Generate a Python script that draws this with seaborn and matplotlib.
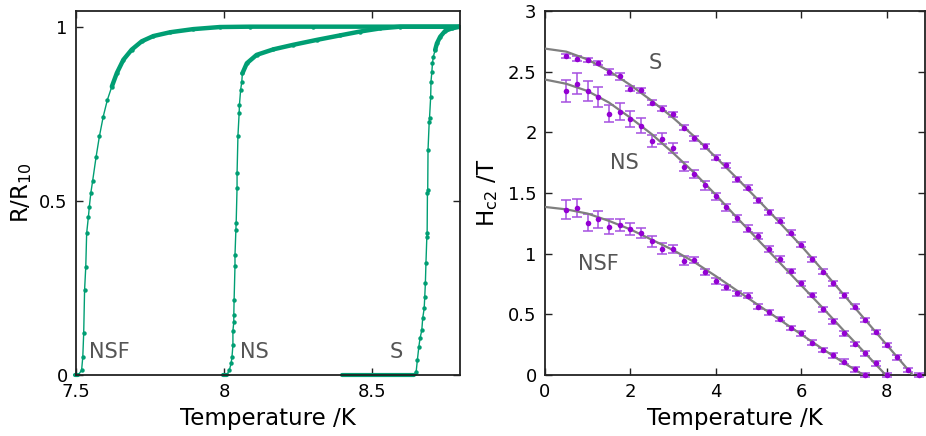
import numpy as np
import pandas as pd
import matplotlib
matplotlib.use("Agg")
import matplotlib.pyplot as plt
import seaborn as sns

# ---------------- data: left panel (R/R10 vs T) ----------------
nsf_T = [7.497, 7.501, 7.505, 7.508, 7.519, 7.523, 7.526, 7.529, 7.533, 7.536, 7.542,
         7.545, 7.550, 7.556, 7.568, 7.579, 7.592, 7.606, 7.621, 7.638, 7.660, 7.688,
         7.722, 7.761, 7.818, 7.896, 7.986, 8.088, 8.30, 8.50, 8.797]
nsf_R = [0.0, 0.0, 0.0, 0.0, 0.014, 0.053, 0.120, 0.244, 0.311, 0.407, 0.455,
         0.483, 0.522, 0.556, 0.627, 0.685, 0.742, 0.790, 0.828, 0.867, 0.905, 0.934,
         0.958, 0.973, 0.984, 0.993, 0.999, 1.0, 1.0, 1.0, 1.0]

ns_T = [7.998, 8.009, 8.018, 8.024, 8.027, 8.030, 8.030, 8.033, 8.033, 8.034, 8.037,
        8.037, 8.040, 8.041, 8.044, 8.044, 8.047, 8.051, 8.052, 8.056, 8.060, 8.062,
        8.077, 8.110, 8.167, 8.234, 8.313, 8.392, 8.459, 8.527, 8.595, 8.797]
ns_R = [0.0, 0.0, 0.014, 0.034, 0.053, 0.086, 0.127, 0.152, 0.172, 0.215, 0.313,
        0.344, 0.416, 0.437, 0.538, 0.579, 0.687, 0.751, 0.775, 0.818, 0.842, 0.866,
        0.895, 0.919, 0.935, 0.948, 0.962, 0.975, 0.986, 0.995, 1.0, 1.0]

s_T = [8.398, 8.45, 8.50, 8.55, 8.60, 8.640, 8.649, 8.653, 8.658, 8.662, 8.668, 8.671,
       8.676, 8.678, 8.680, 8.682, 8.685, 8.686, 8.687, 8.688, 8.689, 8.693, 8.694,
       8.698, 8.699, 8.702, 8.704, 8.707, 8.713, 8.719, 8.730, 8.747, 8.769, 8.797]
s_R = [0.0, 0.0, 0.0, 0.0, 0.0, 0.0, 0.010, 0.043, 0.081, 0.105, 0.129, 0.163,
       0.191, 0.225, 0.263, 0.321, 0.397, 0.407, 0.522, 0.532, 0.646, 0.727, 0.737,
       0.799, 0.842, 0.871, 0.895, 0.914, 0.933, 0.952, 0.971, 0.988, 0.995, 1.0]

left_labels = ["NSF", "NS", "S"]

# ---------------- data: right panel (Hc2 vs T) ----------------
S_T = [0.5, 0.75, 1.0, 1.25, 1.5, 1.75, 2.0, 2.25, 2.5, 2.75, 3.0, 3.25, 3.5, 3.75,
       4.0, 4.25, 4.5, 4.75, 5.0, 5.25, 5.5, 5.75, 6.0, 6.25, 6.5, 6.75, 7.0, 7.25,
       7.5, 7.75, 8.0, 8.25, 8.5, 8.75]
S_H = [2.627, 2.608, 2.594, 2.572, 2.498, 2.462, 2.361, 2.347, 2.243, 2.196, 2.147,
       2.037, 1.952, 1.886, 1.790, 1.727, 1.614, 1.545, 1.441, 1.342, 1.271, 1.172,
       1.073, 0.953, 0.851, 0.755, 0.656, 0.563, 0.453, 0.354, 0.247, 0.145, 0.041, 0.0]
S_err = [0.018, 0.02, 0.015, 0.02, 0.025, 0.027, 0.02, 0.02, 0.02, 0.02, 0.02,
         0.02, 0.02, 0.02, 0.02, 0.02, 0.02, 0.02, 0.02, 0.02, 0.02, 0.02,
         0.02, 0.02, 0.02, 0.02, 0.02, 0.02, 0.02, 0.02, 0.02, 0.02, 0.02, 0.02]

NS_T = [0.5, 0.75, 1.0, 1.25, 1.5, 1.75, 2.0, 2.25, 2.5, 2.75, 3.0, 3.25, 3.5, 3.75,
        4.0, 4.25, 4.5, 4.75, 5.0, 5.25, 5.5, 5.75, 6.0, 6.25, 6.5, 6.75, 7.0, 7.25,
        7.5, 7.75, 8.0]
NS_H = [2.339, 2.402, 2.342, 2.292, 2.155, 2.169, 2.108, 2.056, 1.932, 1.949, 1.872,
        1.718, 1.658, 1.562, 1.474, 1.381, 1.290, 1.205, 1.142, 1.035, 0.953, 0.857,
        0.755, 0.659, 0.541, 0.442, 0.343, 0.255, 0.178, 0.096, 0.0]
NS_err = [0.09, 0.09, 0.08, 0.08, 0.07, 0.07, 0.065, 0.06, 0.05, 0.045, 0.04,
          0.04, 0.035, 0.035, 0.03, 0.03, 0.03, 0.03, 0.025, 0.025, 0.025, 0.02,
          0.02, 0.02, 0.02, 0.02, 0.02, 0.02, 0.02, 0.02, 0.02]

NSF_T = [0.5, 0.75, 1.0, 1.25, 1.5, 1.75, 2.0, 2.25, 2.5, 2.75, 3.0, 3.25, 3.5, 3.75,
         4.0, 4.25, 4.5, 4.75, 5.0, 5.25, 5.5, 5.75, 6.0, 6.25, 6.5, 6.75, 7.0, 7.25, 7.5]
NSF_H = [1.364, 1.375, 1.254, 1.282, 1.222, 1.238, 1.200, 1.169, 1.101, 1.040, 1.040,
         0.942, 0.944, 0.851, 0.777, 0.722, 0.673, 0.653, 0.563, 0.516, 0.461, 0.387,
         0.343, 0.266, 0.206, 0.162, 0.110, 0.047, 0.0]
NSF_err = [0.075, 0.075, 0.07, 0.07, 0.06, 0.05, 0.05, 0.04, 0.045, 0.045, 0.035,
           0.035, 0.025, 0.025, 0.025, 0.02, 0.02, 0.02, 0.02, 0.02, 0.02, 0.02,
           0.02, 0.02, 0.02, 0.02, 0.02, 0.02, 0.02]

# fitted curves
fitS_T = [0, 0.5, 1, 1.5, 2, 2.5, 3, 3.5, 4, 4.5, 5, 5.5, 6, 6.5, 7, 7.5, 8, 8.5, 8.61]
fitS_H = [2.69, 2.665, 2.60, 2.505, 2.39, 2.26, 2.12, 1.965, 1.795, 1.62, 1.44, 1.255,
          1.065, 0.865, 0.66, 0.455, 0.25, 0.045, 0.0]
fitNS_T = [0, 0.5, 1, 1.5, 2, 2.5, 3, 3.5, 4, 4.5, 5, 5.5, 6, 6.5, 7, 7.5, 7.98]
fitNS_H = [2.435, 2.40, 2.34, 2.245, 2.12, 1.985, 1.83, 1.665, 1.485, 1.295, 1.11,
           0.925, 0.74, 0.555, 0.365, 0.18, 0.0]
fitNSF_T = [0, 0.5, 1, 1.5, 2, 2.5, 3, 3.5, 4, 4.5, 5, 5.5, 6, 6.5, 7, 7.46]
fitNSF_H = [1.385, 1.365, 1.33, 1.27, 1.20, 1.115, 1.03, 0.93, 0.815, 0.695, 0.575,
            0.455, 0.335, 0.215, 0.10, 0.0]

left_xticks = [7.5, 8.0, 8.5]
left_xticklabels = ["7.5", "8", "8.5"]
left_yticks = [0, 0.5, 1]
left_yticklabels = ["0", "0.5", "1"]
right_xticks = [0, 2, 4, 6, 8]
right_yticks = [0, 0.5, 1, 1.5, 2, 2.5, 3]
right_yticklabels = ["0", "0.5", "1", "1.5", "2", "2.5", "3"]

# ---------------- styling ----------------
plt.rcParams["font.family"] = ["DejaVu Sans"]
GREEN = "#009e73"
PURPLE = "#9400d3"
BAR = "#a64fe0"
GREY = "#7f7f7f"
LABEL_GREY = "#555555"
W, H = 926, 436

fig = plt.figure(figsize=(W / 100, H / 100), dpi=100)
axL = fig.add_axes([76 / W, 1 - 375 / H, 384 / W, 364 / H])
axR = fig.add_axes([545 / W, 1 - 375 / H, 380 / W, 364 / H])


def style_axis(ax):
    for sp in ax.spines.values():
        sp.set_color("#222222")
        sp.set_linewidth(1.3)
    ax.tick_params(direction="in", length=5, width=1.0, color="#222222",
                   top=True, right=True, labelsize=13, pad=6)


# left panel
band_start = {"NSF": 0.80, "NS": 0.85, "S": 0.93}
for name, T, R in [("NSF", nsf_T, nsf_R), ("NS", ns_T, ns_R), ("S", s_T, s_R)]:
    df = pd.DataFrame({"T": T, "R": R})
    sns.lineplot(data=df, x="T", y="R", ax=axL, color=GREEN, lw=1.0,
                 estimator=None, sort=False, marker="o", markersize=3.2,
                 markeredgewidth=0, legend=False)
    top = df[df["R"] >= band_start[name]]
    sns.lineplot(data=top, x="T", y="R", ax=axL, color=GREEN, lw=3.2,
                 estimator=None, sort=False, legend=False,
                 solid_capstyle="round")
    zero = df[df["R"] == 0]
    sns.lineplot(data=zero, x="T", y="R", ax=axL, color=GREEN, lw=3.0,
                 estimator=None, sort=False, legend=False,
                 solid_capstyle="round", clip_on=False)

axL.set_xlim(7.5, 8.797)
axL.set_ylim(0, 1.045)
axL.set_xticks(left_xticks)
axL.set_xticklabels(left_xticklabels)
axL.set_yticks(left_yticks)
axL.set_yticklabels(left_yticklabels)
axL.set_xlabel("Temperature /K", fontsize=16.5, labelpad=4)
axL.set_ylabel(r"R/R$_{10}$", fontsize=16.5, labelpad=4)
style_axis(axL)
for txt, x in zip(left_labels, [7.544, 8.054, 8.56]):
    axL.text(x, 0.066, txt, fontsize=15, color=LABEL_GREY, ha="left", va="center")

# right panel
for T, Hv in [(fitS_T, fitS_H), (fitNS_T, fitNS_H), (fitNSF_T, fitNSF_H)]:
    sns.lineplot(x=T, y=Hv, ax=axR, color=GREY, lw=1.6, estimator=None,
                 sort=False, legend=False, zorder=3)
for T, Hv, E in [(S_T, S_H, S_err), (NS_T, NS_H, NS_err), (NSF_T, NSF_H, NSF_err)]:
    axR.errorbar(T, Hv, yerr=E, fmt="none", ecolor=BAR, elinewidth=1.1,
                 capsize=3.5, capthick=1.1, zorder=2, clip_on=False)
    sns.scatterplot(x=T, y=Hv, ax=axR, color=PURPLE, s=16, linewidth=0,
                    zorder=4, legend=False, clip_on=False)

axR.set_xlim(0, 8.9)
axR.set_ylim(0, 3)
axR.set_xticks(right_xticks)
axR.set_yticks(right_yticks)
axR.set_yticklabels(right_yticklabels)
axR.set_xlabel("Temperature /K", fontsize=16.5, labelpad=4)
axR.set_ylabel(r"H$_{\rm c2}$ /T", fontsize=16.5, labelpad=6)
style_axis(axR)
axR.text(2.59, 2.57, "S", fontsize=15, color=LABEL_GREY, ha="center", va="center")
axR.text(1.87, 1.75, "NS", fontsize=15, color=LABEL_GREY, ha="center", va="center")
axR.text(1.24, 0.915, "NSF", fontsize=15, color=LABEL_GREY, ha="center", va="center")

fig.savefig("out.png", dpi=100)
